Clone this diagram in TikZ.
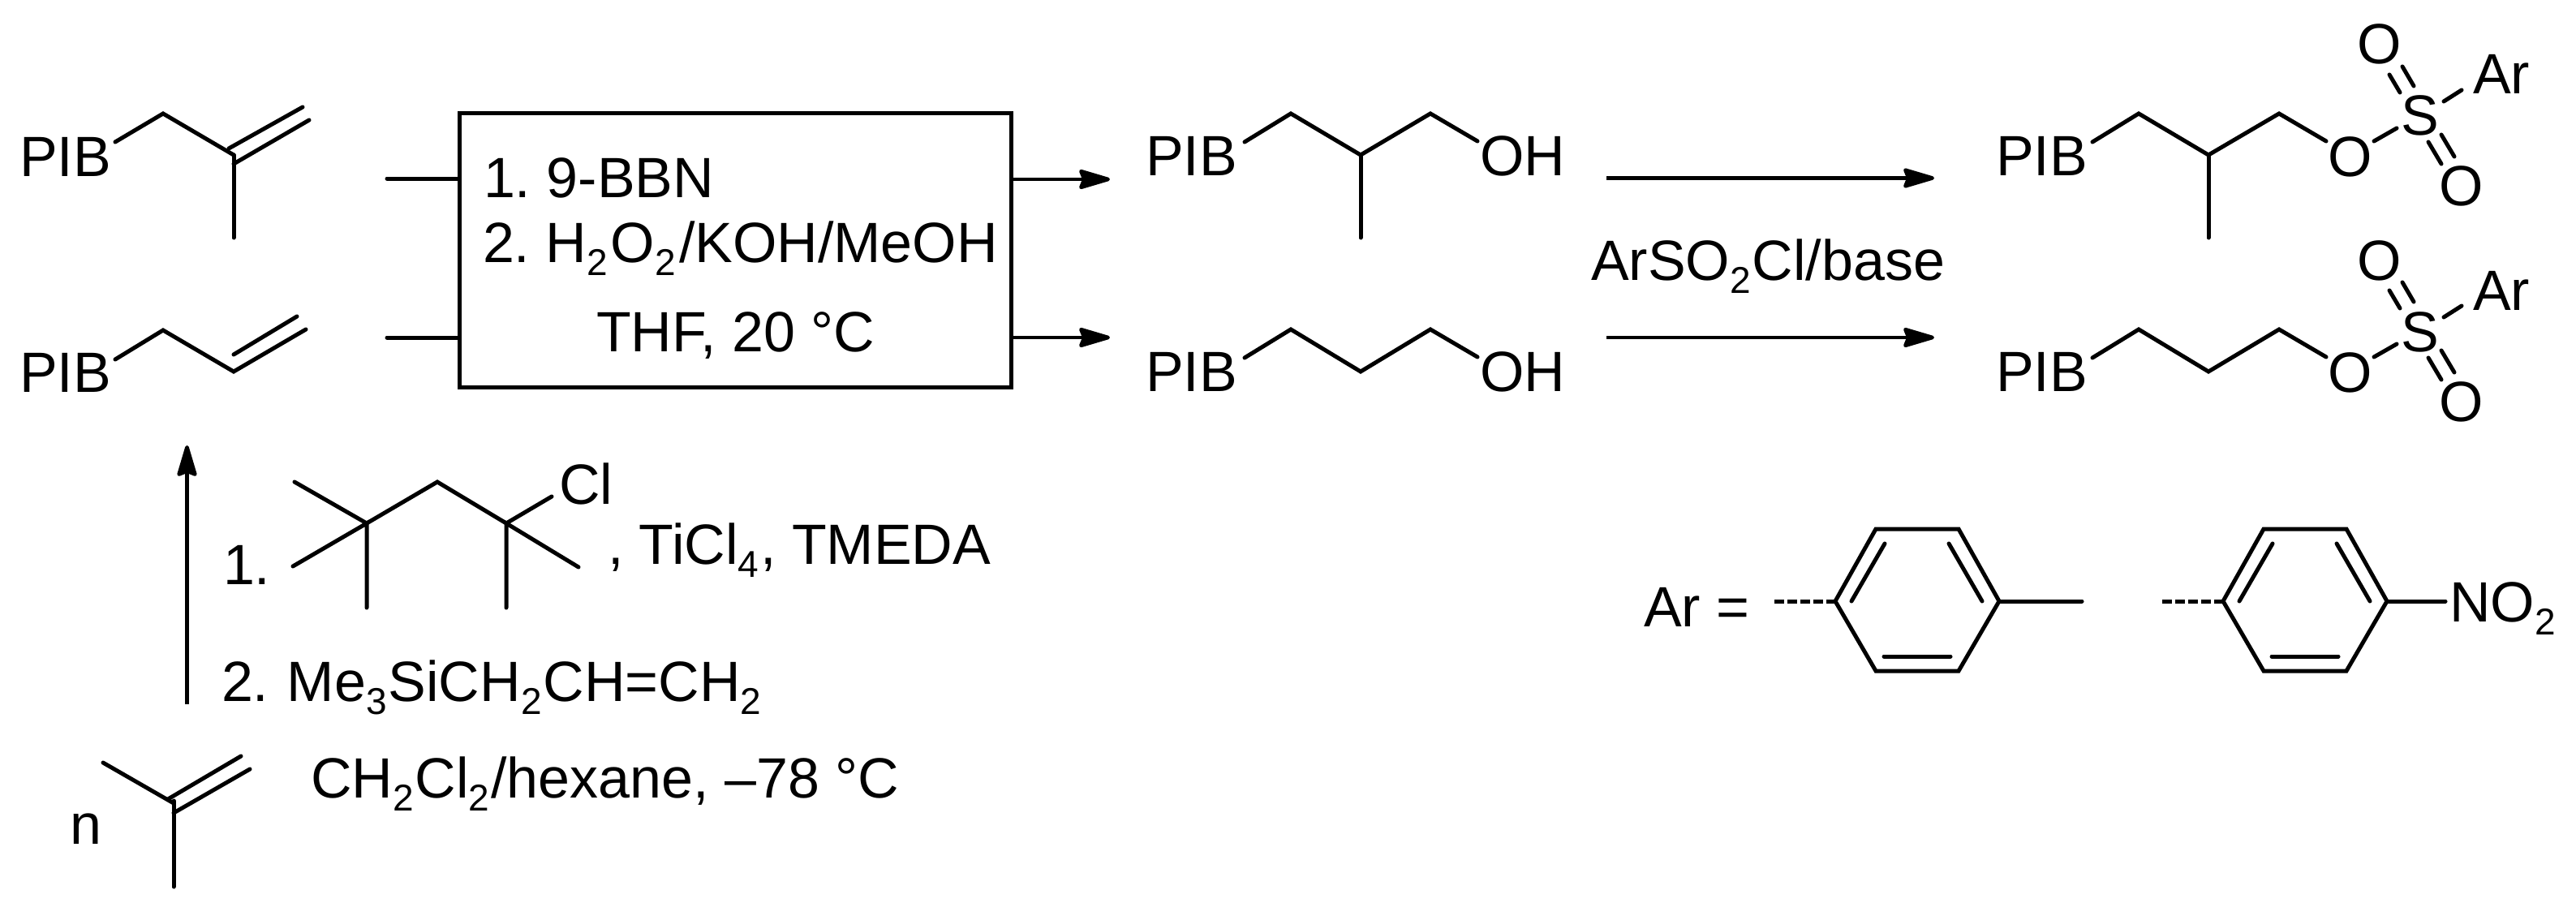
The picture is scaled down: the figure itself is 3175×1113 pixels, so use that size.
\documentclass[tikz,border=0pt]{standalone}
\usepackage{fontspec}
\setmainfont{Liberation Sans}
\usetikzlibrary{arrows.meta}
\newcommand{\subs}[1]{\raisebox{-16pt}{\fontsize{46}{46}\selectfont #1}\kern2pt}
\tikzset{
  txt/.style={inner sep=0pt,outer sep=0pt,anchor=base west,font=\fontsize{70}{84}\selectfont\frenchspacing},
  ctxt/.style={txt,anchor=base},
  bond/.style={line width=5pt,line cap=round,line join=miter,black},
  arr/.style={line width=4.6pt,-{Stealth[length=45pt,width=26pt,inset=5pt,round]}},
  boxn/.style={draw,line width=5pt,minimum width=680pt,minimum height=337pt,inner sep=0pt,outer sep=0pt}
}
\begin{document}
\begin{tikzpicture}[x=1pt,y=-1pt]
\useasboundingbox (0,0) rectangle (3175,1113);
% reagents box
\node[boxn] (box) at (906,308.5) {};
\node[txt] (r1) at (596,243) {1. 9-BBN};
\node[txt] (r2) at (595,323) {2. H\subs{2}\kern2pt O\subs{2}\kern2pt /KOH/MeOH};
\node[txt] (r3) at (735,433) {THF, 20 °C};
\coordinate (sa) at (477,220);
\coordinate (sb) at (477,416);
\coordinate (ea) at (1368,221);
\coordinate (eb) at (1368,416);
\draw[bond] (sa) -- (box.west |- sa);
\draw[bond] (sb) -- (box.west |- sb);
\draw[arr] (box.east |- ea) -- (ea);
\draw[arr] (box.east |- eb) -- (eb);
% methallyl PIB
\node[txt] (pa) at (24,217) {PIB};
\draw[bond] (142,175) -- (201,140) -- (288,191);
\draw[bond] (282,183) -- (373,132);
\draw[bond] (288,202) -- (381,148);
\draw[bond] (288,191) -- (288,293);
% allyl PIB
\node[txt] (pb) at (24,483) {PIB};
\draw[bond] (142,443) -- (201,407) -- (288,458) -- (377,406);
\draw[bond] (288,437) -- (366,390);
% alcohols
\node[txt] (pc) at (1412,216) {PIB};
\node[txt] (oha) at (1824,216) {OH};
\draw[bond] (1534,175) -- (1591,140) -- (1677,191) -- (1763,140) -- (1821,174);
\draw[bond] (1677,191) -- (1677,293);
\node[txt] (pd) at (1412,482) {PIB};
\node[txt] (ohb) at (1824,482) {OH};
\draw[bond] (1534,441) -- (1591,406) -- (1677,458) -- (1763,406) -- (1821,440);
% sulfonylation arrows
\coordinate (ca) at (1980,219.5);
\coordinate (cb) at (2384,219.5);
\coordinate (da) at (1980,416);
\coordinate (db) at (2384,416);
\draw[arr] (ca) -- (cb);
\draw[arr] (da) -- (db);
\node[txt] (sreag) at (1961,345) {ArSO\subs{2}Cl/base};
% sulfonate 1
\node[txt] (pe) at (2460,216) {PIB};
\draw[bond] (2579,175) -- (2636,140) -- (2722,191) -- (2809,140) -- (2867,174);
\draw[bond] (2722,191) -- (2722,293);
\node[ctxt] (oa) at (2897,217) {O};
\node[ctxt] (sa1) at (2983,167) {S};
\node[ctxt] (oa1) at (2933,79) {O};
\node[ctxt] (oa2) at (3034,253) {O};
\node[txt] (ara) at (3048,116) {Ar};
\draw[bond] (2926,174) -- (2954,158);
\draw[bond] (3012,125) -- (3034,111);
\draw[bond] (2945,92) -- (2958,114);
\draw[bond] (2961,82) -- (2975,106);
\draw[bond] (2993,175) -- (3009,202);
\draw[bond] (3009,166) -- (3025,193);
% sulfonate 2
\begin{scope}[shift={(0,266)}]
\node[txt] (pf) at (2460,216) {PIB};
\draw[bond] (2579,175) -- (2636,140) -- (2722,192) -- (2809,140) -- (2867,174);
\node[ctxt] (ob) at (2897,217) {O};
\node[ctxt] (sb1) at (2983,167) {S};
\node[ctxt] (ob1) at (2933,79) {O};
\node[ctxt] (ob2) at (3034,253) {O};
\node[txt] (arb) at (3048,116) {Ar};
\draw[bond] (2926,174) -- (2954,158);
\draw[bond] (3012,125) -- (3034,111);
\draw[bond] (2945,92) -- (2958,114);
\draw[bond] (2961,82) -- (2975,106);
\draw[bond] (2993,175) -- (3009,202);
\draw[bond] (3009,166) -- (3025,193);
\end{scope}
% polymerisation arrow
\coordinate (pa0) at (230.5,868);
\coordinate (pa1) at (230.5,549);
\draw[arr] (pa0) -- (pa1);
\node[txt] (n1) at (275,720) {1.};
\draw[bond] (363,594) -- (452,645) -- (539,594) -- (624,645) -- (680,612);
\draw[bond] (361,698) -- (452,645) -- (452,749);
\draw[bond] (713,699) -- (624,645) -- (624,749);
\node[txt] (cl) at (689,621) {Cl};
\node[txt] (ti) at (749,695) {, TiCl\subs{4}, TMEDA};
\node[txt] (n2) at (273,864) {2.\kern3pt{} Me\subs{3}SiCH\subs{2}CH=CH\subs{2}};
\node[txt] (solv) at (383,983) {CH\subs{2}Cl\subs{2}/hexane, –78 °C};
% monomer
\node[txt] (nn) at (86,1040) {n};
\draw[bond] (127,940) -- (214,990);
\draw[bond] (207,985) -- (297,932);
\draw[bond] (214,1002) -- (308,948);
\draw[bond] (214,987) -- (214,1093);
% Ar definitions
\node[txt] (areq) at (2026,772) {Ar =};
\foreach \dx in {0,478}{
\begin{scope}[shift={(\dx,0)}]
\draw[bond,line join=miter] (2262,741) -- (2312,652) -- (2414,652) -- (2464,741) -- (2414,827) -- (2312,827) -- cycle;
\draw[bond] (2323,670) -- (2282,741);
\draw[bond] (2402,670) -- (2443,741);
\draw[bond] (2322,809) -- (2404,809);
\draw[line width=5pt,dash pattern=on 12pt off 4pt] (2187,741) -- (2262,741);
\end{scope}}
\draw[bond] (2464,741) -- (2566,741);
\draw[bond] (2942,741) -- (3014,741);
\node[txt] (no) at (3019,766) {NO\subs{2}};
\end{tikzpicture}
\end{document}
